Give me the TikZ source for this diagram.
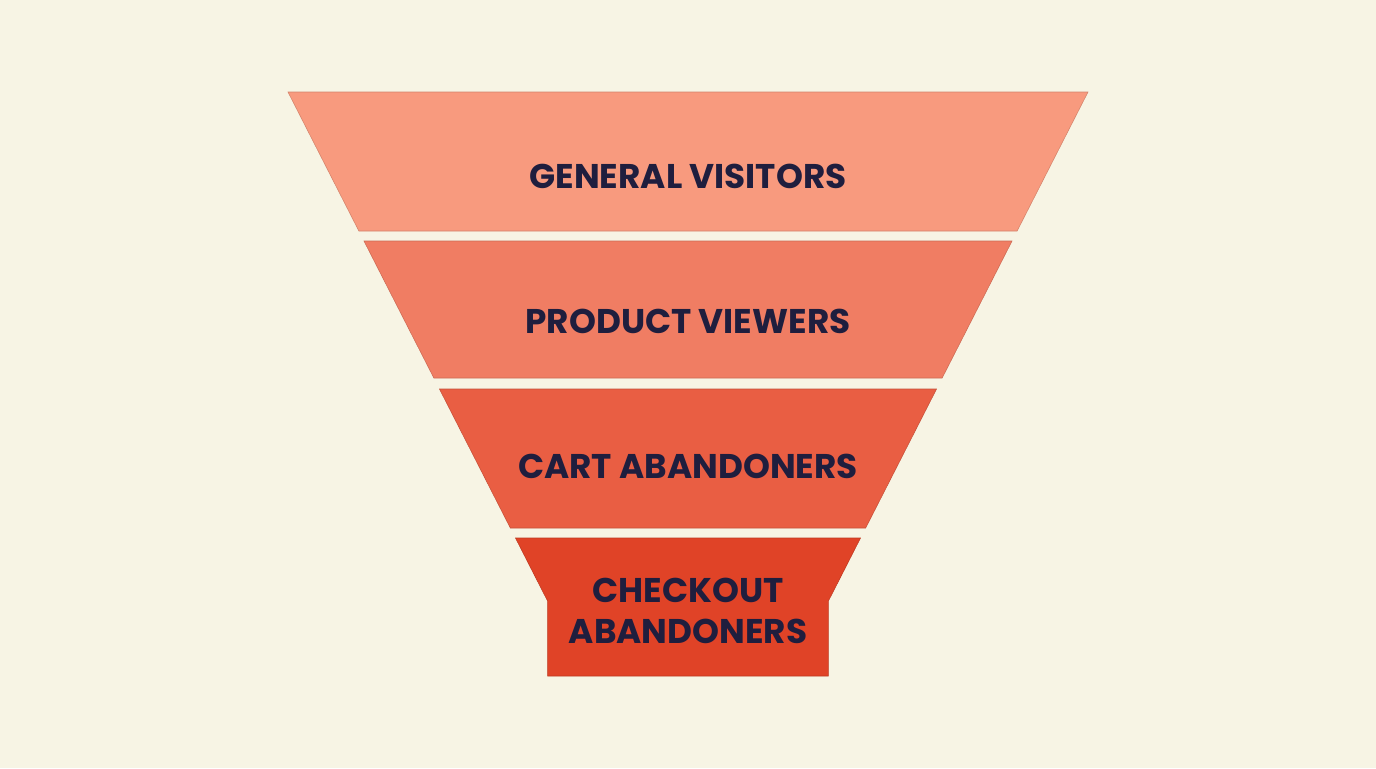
\documentclass[tikz,border=0pt]{standalone}
\usepackage{fontspec}
\setmainfont{Poppins}
\usepackage{tikz}
\usetikzlibrary{positioning}

\definecolor{bgcream}{HTML}{F7F4E4}
\definecolor{stageA}{HTML}{F89A7E}
\definecolor{stageB}{HTML}{F07D63}
\definecolor{stageC}{HTML}{E95E43}
\definecolor{stageD}{HTML}{E04327}
\definecolor{navytext}{HTML}{1F1E3E}

\begin{document}
\begin{tikzpicture}[x=0.02cm,y=-0.02cm]
    \tikzstyle{stage}=[draw=#1!85!black, line width=0.3pt, fill=#1];
    \tikzstyle{stagetext}=[font=\bfseries\fontsize{19.5}{23.4}\selectfont, text=navytext, align=center, inner sep=0pt];

    % background
    \fill[bgcream] (0,0) rectangle (1376,768);

    % three sloped stages
    \foreach \top/\bot/\col in {92/231/stageA, 241/378/stageB, 389/528/stageC} {
        \draw[stage=\col] ({288+0.51*(\top-92)},\top) -- ({1088-0.51*(\top-92)},\top)
            -- ({1088-0.51*(\bot-92)},\bot) -- ({288+0.51*(\bot-92)},\bot) -- cycle;
    }
    % neck of the funnel
    \draw[stage=stageD] (515.5,538) -- (860.5,538) -- (828.4,601) -- (828.4,676)
        -- (547.6,676) -- (547.6,601) -- cycle;

    \node[stagetext] (visitors) at (688,176) {GENERAL VISITORS};
    \node[stagetext] (viewers) at (688,321) {PRODUCT VIEWERS};
    \node[stagetext] (cart) at (688,466) {CART ABANDONERS};
    \node[stagetext] (checkout) at (688,611) {CHECKOUT\\ABANDONERS};
\end{tikzpicture}
\end{document}
